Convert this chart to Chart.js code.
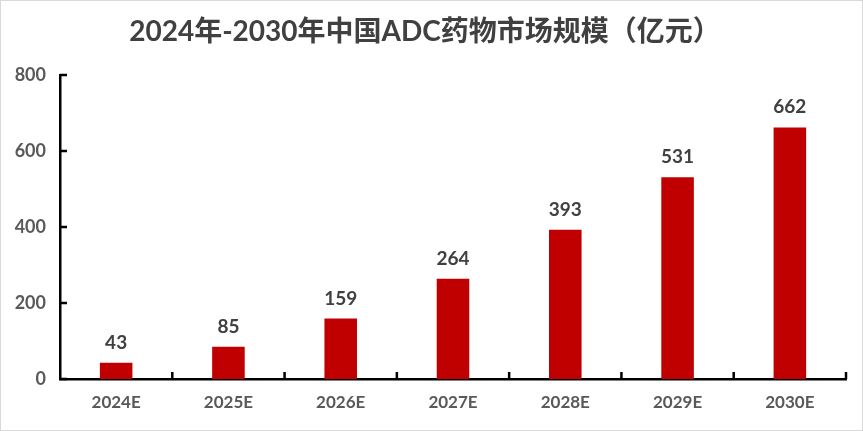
<!DOCTYPE html>
<html>
<head>
<meta charset="utf-8">
<script src="https://cdn.jsdelivr.net/npm/chart.js@4.4.0/dist/chart.umd.min.js"></script>
<style>
  html, body { margin: 0; padding: 0; background: #fff; }
  #wrap { width: 863px; height: 431px; }
</style>
</head>
<body>
<div id="wrap"><canvas id="adcChart" width="863" height="431"></canvas></div>
<script>
const years = ['2024E', '2025E', '2026E', '2027E', '2028E', '2029E', '2030E'];
const marketSize = [43, 85, 159, 264, 393, 531, 662];
const yTicks = [0, 200, 400, 600, 800];
const chartTitle = '2024年-2030年中国ADC药物市场规模（亿元）';

const fontFamily = "Lato, 'Noto Sans CJK SC', sans-serif";

// frame, title, inward tick marks and value labels
const decorPlugin = {
  id: 'decor',
  beforeDraw(chart) {
    const ctx = chart.ctx;
    ctx.save();
    ctx.fillStyle = '#fff';
    ctx.fillRect(0, 0, chart.width, chart.height);
    ctx.strokeStyle = '#d9d9d9';
    ctx.lineWidth = 1;
    ctx.strokeRect(0.5, 0.5, chart.width - 1, chart.height - 1);
    ctx.restore();
  },
  afterDraw(chart) {
    const ctx = chart.ctx;
    const x = chart.scales.x;
    const y = chart.scales.y;
    const area = chart.chartArea;
    ctx.save();

    ctx.fillStyle = '#404040';
    ctx.font = "bold 28px " + fontFamily;
    ctx.textAlign = 'center';
    ctx.textBaseline = 'middle';
    ctx.fillText(chartTitle, 425, 32);

    ctx.strokeStyle = '#000';
    ctx.lineWidth = 2.5;
    ctx.beginPath();
    yTicks.forEach(v => {
      const py = y.getPixelForValue(v);
      ctx.moveTo(area.left, py);
      ctx.lineTo(area.left + 7, py);
    });
    for (let i = 1; i <= years.length; i++) {
      const px = (x.getPixelForValue(i - 1) + x.getPixelForValue(i)) / 2;
      const bx = i === years.length ? area.right : px;
      ctx.moveTo(bx, area.bottom);
      ctx.lineTo(bx, area.bottom - 7);
    }
    ctx.stroke();

    ctx.fillStyle = '#404040';
    ctx.font = "bold 19px " + fontFamily;
    ctx.textBaseline = 'alphabetic';
    const meta = chart.getDatasetMeta(0);
    meta.data.forEach((bar, i) => {
      ctx.fillText(String(marketSize[i]), bar.x, bar.y - 14);
    });
    ctx.restore();
  }
};

new Chart(document.getElementById('adcChart').getContext('2d'), {
  type: 'bar',
  data: {
    labels: years,
    datasets: [{
      data: marketSize,
      backgroundColor: '#c00000',
      borderWidth: 0,
      barPercentage: 0.29,
      categoryPercentage: 1
    }]
  },
  options: {
    responsive: false,
    animation: false,
    devicePixelRatio: 1,
    layout: { padding: { top: 75, right: 17, left: 0, bottom: 0 } },
    plugins: {
      legend: { display: false },
      title: { display: false },
      tooltip: { enabled: false }
    },
    scales: {
      x: {
        grid: { display: false, drawTicks: false },
        border: { display: true, color: '#000', width: 2.5 },
        ticks: {
          color: '#595959',
          font: { family: fontFamily, size: 17, weight: 'bold' },
          padding: 13
        },
        afterFit(scale) { scale.height = 52; }
      },
      y: {
        min: 0,
        max: 800,
        grid: { display: false, drawTicks: false },
        border: { display: true, color: '#000', width: 2.5 },
        ticks: {
          stepSize: 200,
          color: '#595959',
          font: { family: fontFamily, size: 18, weight: 'bold' },
          padding: 14
        },
        afterFit(scale) { scale.width = 60; }
      }
    }
  },
  plugins: [decorPlugin]
});
</script>
</body>
</html>
